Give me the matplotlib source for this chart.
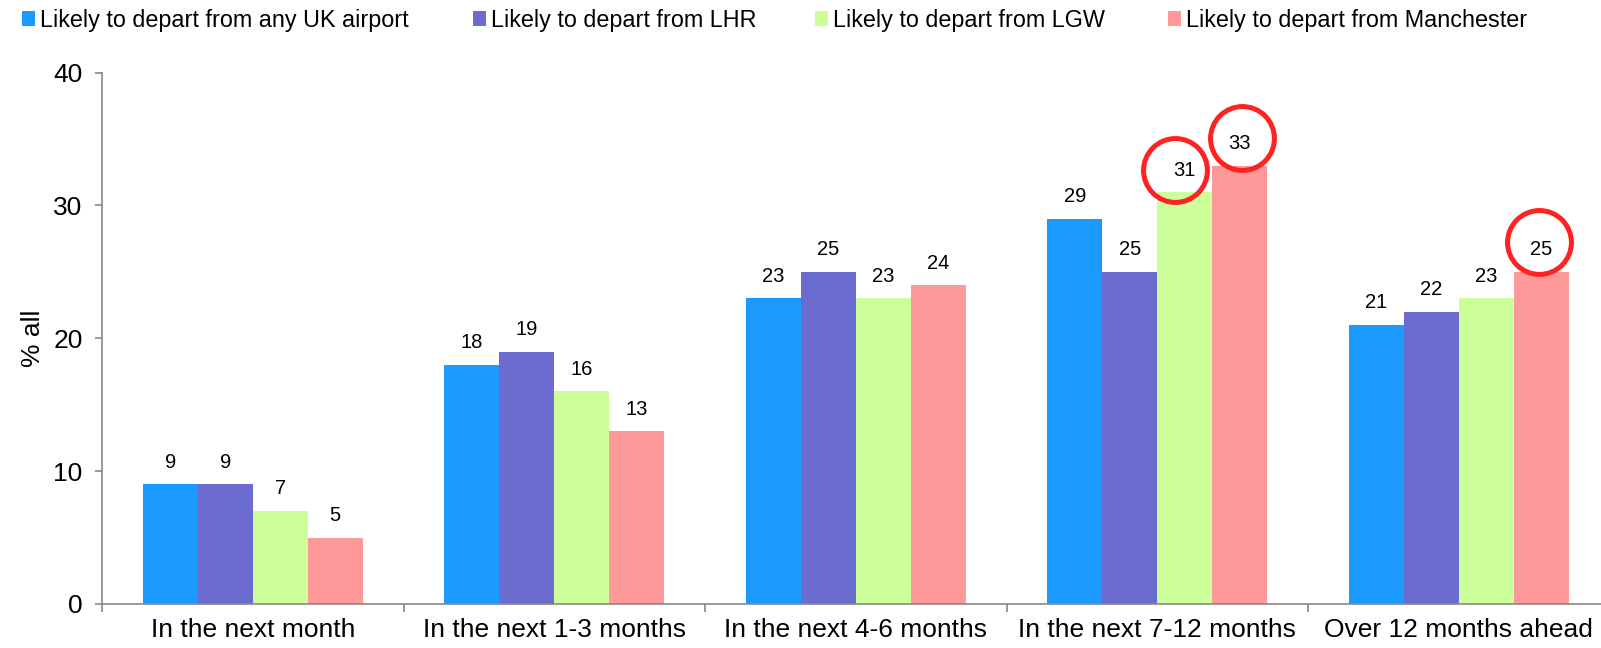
import numpy as np
import matplotlib.pyplot as plt
from matplotlib.transforms import ScaledTranslation

plt.rcParams['font.family'] = ['Liberation Sans', 'DejaVu Sans']

# Data
categories = ['In the next month', 'In the next 1-3 months', 'In the next 4-6 months',
              'In the next 7-12 months', 'Over 12 months ahead']
series = ['Likely to depart from any UK airport', 'Likely to depart from LHR',
          'Likely to depart from LGW', 'Likely to depart from Manchester']
any_uk = [9, 18, 23, 29, 21]
lhr = [9, 19, 25, 25, 22]
lgw = [7, 16, 23, 31, 23]
manchester = [5, 13, 24, 33, 25]
# (category index, series index) of the highlighted values
circled = [(3, 2), (3, 3), (4, 3)]

values = [any_uk, lhr, lgw, manchester]
colors = ['#1B9BFF', '#6C6CD0', '#CCFF99', '#FF9999']

fig = plt.figure(figsize=(16.01, 6.48), dpi=100)
# axes runs a bit past the right edge, like the original (last label is cut)
ax = fig.add_axes([0.0637, 0.068, 0.9417, 0.820])

x = np.arange(len(categories))
w = 0.1825
bars = []
for i, vals in enumerate(values):
    offs = (i - 1.5) * w
    b = ax.bar(x + offs, vals, w, color=colors[i], label=series[i])
    bars.append(b)
    for xi, v in zip(x + offs, vals):
        ax.annotate(str(v), (xi, v), xytext=(0, 9), textcoords='offset points',
                    ha='center', va='bottom', fontsize=14.5)

# red circles around the highlighted labels (nudges in points)
nudge = [(-7, 16), (1.5, 20), (-1.5, 21.5)]
for (c, s), (dx, dy) in zip(circled, nudge):
    xc = x[c] + (s - 1.5) * w
    ax.plot(xc, values[s][c], marker='o', markersize=46, markerfacecolor='none',
            markeredgecolor='#FF2222', markeredgewidth=3.6, linestyle='none',
            transform=ax.transData + ScaledTranslation(dx / 72, dy / 72, fig.dpi_scale_trans),
            clip_on=False)

ax.set_xlim(-0.5, len(categories) - 0.5)
ax.set_ylim(0, 40)
ax.set_yticks([0, 10, 20, 30, 40])
ax.tick_params(axis='y', labelsize=19, length=5, color='#888888', width=1.2, pad=9)
ax.set_xticks(np.arange(len(categories) + 1) - 0.5)
ax.set_xticklabels([])
ax.set_xticks(x, minor=True)
ax.set_xticklabels(categories, minor=True, fontsize=19)
ax.tick_params(axis='x', which='major', length=6, color='#888888', width=1.2)
ax.tick_params(axis='x', which='minor', length=0, pad=10)
ax.set_ylabel('% all', fontsize=19, labelpad=6)

for side in ['top', 'right']:
    ax.spines[side].set_visible(False)
for side in ['left', 'bottom']:
    ax.spines[side].set_color('#888888')
    ax.spines[side].set_linewidth(1.2)

# legend entries spaced like the original
leg_x = [0.0137, 0.2954, 0.509, 0.7295]
for i, lx in enumerate(leg_x):
    fig.legend(handles=[bars[i]], labels=[series[i]], loc='center left',
               bbox_to_anchor=(lx, 0.969), frameon=False, fontsize=16.8,
               handlelength=0.57, handleheight=0.57, handletextpad=0.2,
               borderpad=0, borderaxespad=0)

fig.savefig('out.png', dpi=100)
